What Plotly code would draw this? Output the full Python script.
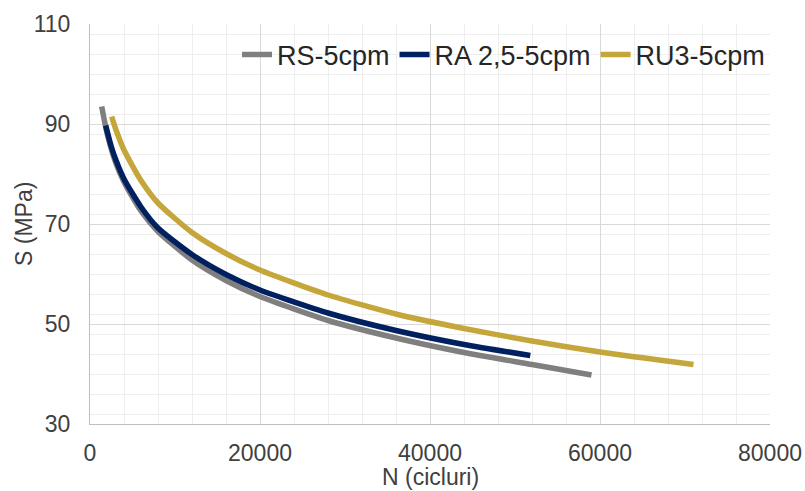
import plotly.graph_objects as go

# Values
rs_n = [1376, 2000, 3000, 4000, 6000, 8000, 12000, 16000, 20000, 28000, 36000, 44000, 52000, 59000]
rs_s = [93.5, 88.2, 82.4, 78.4, 72.6, 68.5, 62.8, 58.7, 55.5, 50.7, 47.2, 44.3, 41.9, 39.8]

ra_n = [1843, 2500, 3000, 4000, 6000, 8000, 12000, 16000, 20000, 28000, 36000, 44000, 51800]
ra_s = [89.7, 85.5, 83.0, 79.0, 73.4, 69.2, 63.9, 59.9, 56.8, 52.2, 48.7, 45.9, 43.7]

ru_n = [2549, 3000, 4000, 6000, 8000, 12000, 16000, 20000, 28000, 36000, 44000, 52000, 60000, 71000]
ru_s = [91.5, 89.1, 84.8, 78.7, 74.2, 68.3, 64.1, 60.8, 55.8, 52.0, 49.1, 46.6, 44.4, 41.9]

names = ["RS-5cpm", "RA 2,5-5cpm", "RU3-5cpm"]
colors = ["#7f7f7f", "#002060", "#c5a63a"]

x_ticks = [0, 20000, 40000, 60000, 80000]
y_ticks = [30, 50, 70, 90, 110]

FONT = "Liberation Sans, Arial, sans-serif"
TXT = "#404040"

fig = go.Figure()
for n, s, name, c in zip([rs_n, ra_n, ru_n], [rs_s, ra_s, ru_s], names, colors):
    fig.add_trace(go.Scatter(x=n, y=s, mode="lines", name=name,
                             line=dict(color=c, width=5.5, shape="spline", smoothing=0.6)))

fig.update_layout(
    width=805, height=491,
    margin=dict(l=90, r=35, t=24, b=67, autoexpand=False),
    paper_bgcolor="white", plot_bgcolor="white",
    font=dict(family=FONT, size=23, color=TXT),
    showlegend=True,
    legend=dict(orientation="h", x=1.0, xanchor="right", y=0.9225, yanchor="middle",
                bgcolor="rgba(0,0,0,0)", font=dict(size=27, color="#262626"),
                itemwidth=30, tracegroupgap=0),
    xaxis=dict(range=[0, 80000], tickvals=x_ticks, ticktext=[str(v) for v in x_ticks],
               showgrid=True, gridcolor="#d9d9d9", gridwidth=1,
               minor=dict(dtick=4000, showgrid=True, gridcolor="#eeeeee", gridwidth=1),
               showline=True, linecolor="#bfbfbf", linewidth=1, automargin=False,
               zeroline=False, ticks="", ticklabelstandoff=8,
               tickfont=dict(size=23, color=TXT)),
    yaxis=dict(range=[30, 110], tickvals=y_ticks, ticktext=[str(v) for v in y_ticks],
               showgrid=True, gridcolor="#d9d9d9", gridwidth=1,
               minor=dict(dtick=4, showgrid=True, gridcolor="#eeeeee", gridwidth=1),
               showline=True, linecolor="#bfbfbf", linewidth=1, automargin=False,
               zeroline=False, ticks="", ticklabelstandoff=14,
               tickfont=dict(size=23, color=TXT)),
    annotations=[
        dict(text="N (cicluri)", xref="paper", yref="paper", x=0.5, y=-0.133,
             xanchor="center", yanchor="middle", showarrow=False,
             font=dict(size=23, color=TXT)),
        dict(text="S (MPa)", xref="paper", yref="paper", x=-(90 - 24) / 680, y=0.5,
             xanchor="center", yanchor="middle", textangle=-90, showarrow=False,
             font=dict(size=23, color=TXT)),
    ],
)

fig.write_html("out.html", config={"displayModeBar": False},
               post_script="document.body.style.margin='0';document.body.style.overflow='hidden';")
